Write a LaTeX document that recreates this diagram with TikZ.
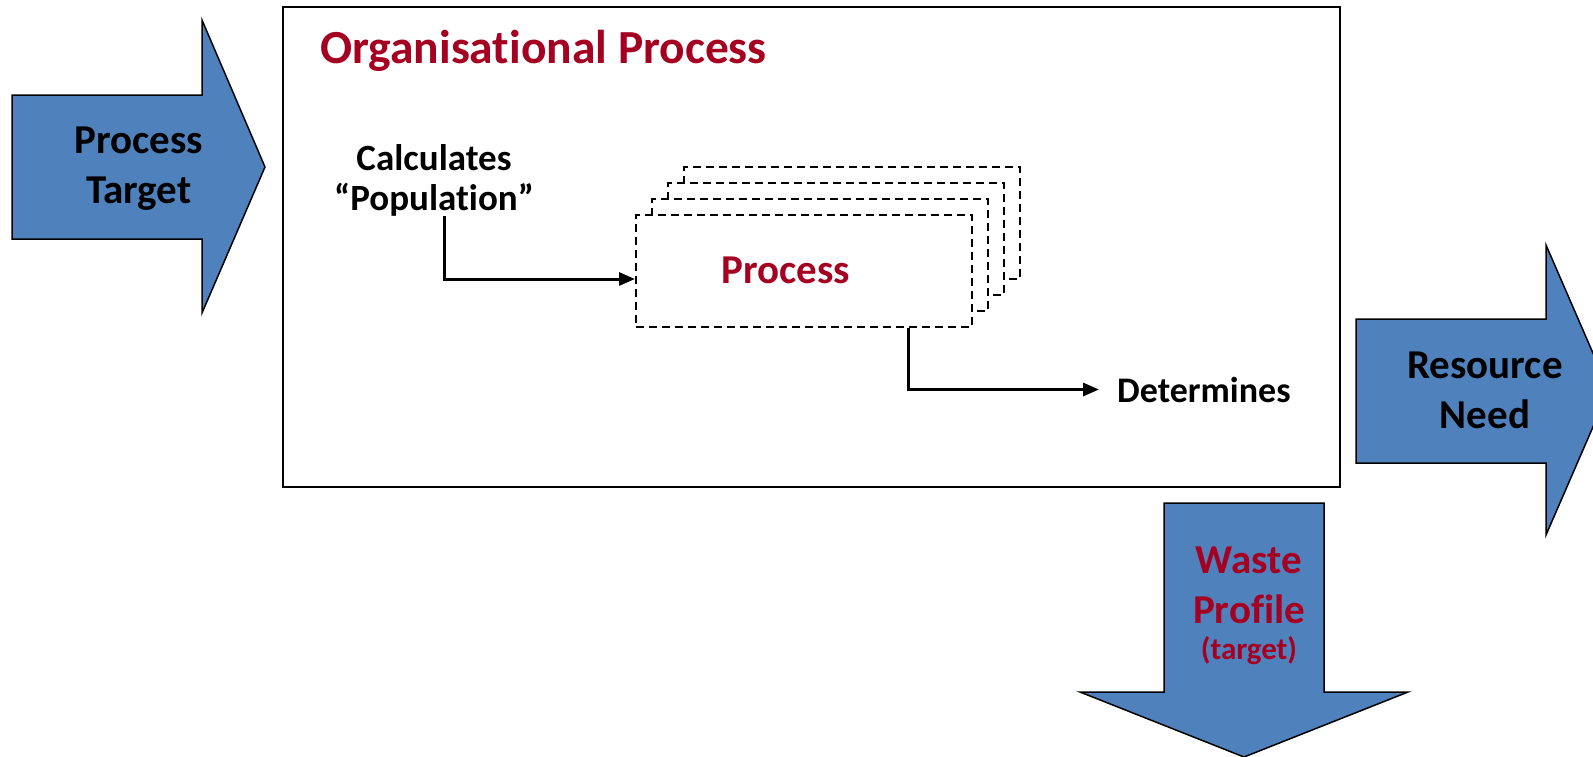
\documentclass[tikz,border=0pt]{standalone}
\usepackage{fontspec}
\setmainfont{Carlito}[Ligatures={TeX,NoCommon}]
\usetikzlibrary{arrows.meta}
\definecolor{ablue}{HTML}{4F81BD}
\definecolor{dred}{HTML}{A50021}
\tikzset{
  bigarrow/.style={fill=ablue, draw=black, line width=1.5pt, line join=miter},
  outerbox/.style={draw=black, line width=2pt},
  procbox/.style={draw=black, fill=white, line width=2pt, dash pattern=on 8pt off 5pt,
    minimum width=336pt, minimum height=112pt, inner sep=0, anchor=center},
  conn/.style={draw=black, line width=3pt, -{Triangle[length=16pt,width=13pt]}},
  arrowtxt/.style={font=\bfseries\fontsize{41}{50}\selectfont, align=center, inner sep=0},
  smalltxt/.style={font=\bfseries\fontsize{37}{40}\selectfont, align=center, inner sep=0},
}
\begin{document}
\begin{tikzpicture}[x=1pt,y=-1pt]
\useasboundingbox (0,0) rectangle (1593,756);
% main box
\draw[outerbox] (283,7) rectangle (1340,487);
\node[anchor=base west, inner sep=0, text=dred, font=\bfseries\fontsize{47.5}{56}\selectfont] (title) at (320,63) {Organisational Process};
% left arrow
\draw[bigarrow] (12,95) -- (202,95) -- (202,20) -- (265,167) -- (202,313) -- (202,239) -- (12,239) -- cycle;
\node[arrowtxt] (ptarget) at (139,169) {Process\\Target};
% right arrow
\draw[bigarrow] (1356,319) -- (1546,319) -- (1546,245) -- (1609,390) -- (1546,535) -- (1546,463) -- (1356,463) -- cycle;
\node[arrowtxt] (rneed) at (1485,390) {Resource\\Need};
% down arrow
\draw[bigarrow] (1164,503) -- (1324,503) -- (1324,692) -- (1408,692) -- (1244,757) -- (1080,692) -- (1164,692) -- cycle;
\node[arrowtxt, text=dred] (waste) at (1249,585) {Waste\\Profile};
\node[anchor=base, inner sep=0, text=dred, font=\bfseries\fontsize{31}{36}\selectfont] (wtarget) at (1249,659) {(target)};
% process stack
\node[procbox] (p3) at (852,223) {};
\node[procbox] (p2) at (836,239) {};
\node[procbox] (p1) at (820,255) {};
\node[procbox] (proc) at (804,271) {};
\node[anchor=base, inner sep=0, text=dred, font=\bfseries\fontsize{41}{50}\selectfont] (proctxt) at (786,283) {Process};
% texts
\node[smalltxt] (calc) at (434,180) {Calculates\\``Population''};
\node[anchor=base west, inner xsep=18pt, inner ysep=0, font=\bfseries\fontsize{36}{44}\selectfont] (det) at (1099,402) {Determines};
% connectors
\draw[conn] ([xshift=10pt]calc.south) |- ([yshift=-8pt]proc.west);
\draw[conn] ([xshift=104pt]proc.south) |- (det.west);
\end{tikzpicture}
\end{document}
